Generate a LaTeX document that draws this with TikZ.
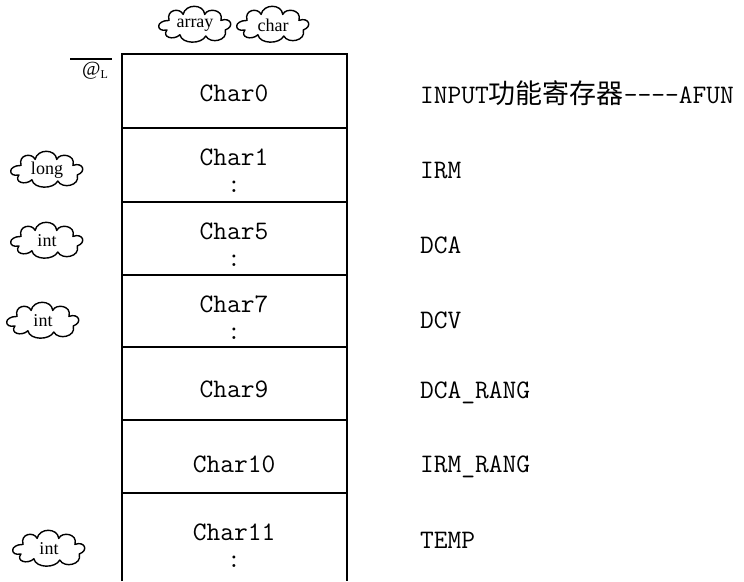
\documentclass[tikz,border=0pt]{standalone}
\usepackage{fontspec}
\newfontfamily\cjk{Noto Sans CJK SC}
\newfontfamily\tagserif{Liberation Serif}
\tikzset{
  rowline/.style={line width=1.6pt},
  celltext/.style={font=\fontsize{26.7}{30}\selectfont\ttfamily, align=center, inner sep=0pt},
  celltwo/.style={font=\fontsize{26.7}{27}\selectfont\ttfamily, align=center, inner sep=0pt},
  lbl/.style={font=\fontsize{26.7}{30}\selectfont\ttfamily, anchor=west, inner sep=0pt},
  tagtext/.style={inner sep=0pt, font=\tagserif\fontsize{18}{18}\selectfont},
  cloudline/.style={line width=1.4pt, line join=round, line cap=round},
  fluff/.pic={
    \draw[cloudline, xscale=1.08, yscale=1.2] (-24,-3) .. controls (-27,-12) and (-14,-14) .. (-11,-8)
      .. controls (-9,-17) and (8,-17) .. (9,-8)
      .. controls (12,-14) and (27,-12) .. (24,-3)
      .. controls (33,-6) and (37,2) .. (28,5)
      .. controls (31,14) and (14,17) .. (10,10)
      .. controls (6,17) and (-12,17) .. (-14,9)
      .. controls (-20,14) and (-31,11) .. (-26,5)
      .. controls (-36,7) and (-37,-3) .. (-24,-3);
  }
}
\begin{document}
\begin{tikzpicture}[x=1pt,y=-1pt]
\useasboundingbox (0,0) rectangle (744,581);
% grid corners
\coordinate (tl) at (122,54);
\coordinate (tr) at (347,54);
\coordinate (bl) at (122,581);
\coordinate (br) at (347,581);
\foreach \y/\n in {128/a,202/b,275/c,347/d,420/e,493/f}{
  \coordinate (L\n) at (122,\y);
  \coordinate (R\n) at (347,\y);
}
\draw[rowline] (bl) -- (tl) -- (tr) -- (br);
\foreach \n in {a,b,c,d,e,f}{ \draw[rowline] (L\n) -- (R\n); }
% cell texts
\node[celltext] (c0) at (234,93) {Char0};
\node[celltwo] (c1) at (234,171) {Char1\\:};
\node[celltwo] (c5) at (234,245) {Char5\\:};
\node[celltwo] (c7) at (234,318) {Char7\\:};
\node[celltext] (c9) at (234,389) {Char9};
\node[celltext] (c10) at (234,464) {Char10};
\node[celltwo] (c11) at (234,546) {Char11\\:};
% right labels
\node[lbl] (l0) at (420,93) {INPUT{\cjk\fontsize{27}{30}\selectfont 功能寄存器}----AFUN};
\node[lbl] (l1) at (420,170) {IRM};
\node[lbl] (l2) at (420,245) {DCA};
\node[lbl] (l3) at (420,320) {DCV};
\node[lbl] (l4) at (420,393) {DCA\_RANG};
\node[lbl] (l5) at (420,467) {IRM\_RANG};
\node[lbl] (l6) at (420,540) {TEMP};
% clouds
\node[tagtext] (tarr) at (195,25) {array};
\node[tagtext] (tchr) at (273,25) {char};
\node[tagtext] (tlong) at (47,170) {long};
\node[tagtext] (tint1) at (47,241) {int};
\node[tagtext] (tint2) at (43,321) {int};
\node[tagtext] (tint3) at (49,549) {int};
\foreach \n in {tarr,tchr,tlong,tint1,tint2,tint3}{ \pic at ([yshift=1pt]\n.center) {fluff}; }
% @L marker
\coordinate (ovl) at (70,59);
\coordinate (ovr) at (112,59);
\draw[line width=1.2pt] (ovl) -- (ovr);
\node[inner sep=0pt, font=\tagserif\fontsize{20}{20}\selectfont, anchor=west] (at) at (82,71) {@\raisebox{-3pt}{\fontsize{12}{12}\selectfont L}};
\end{tikzpicture}
\end{document}
